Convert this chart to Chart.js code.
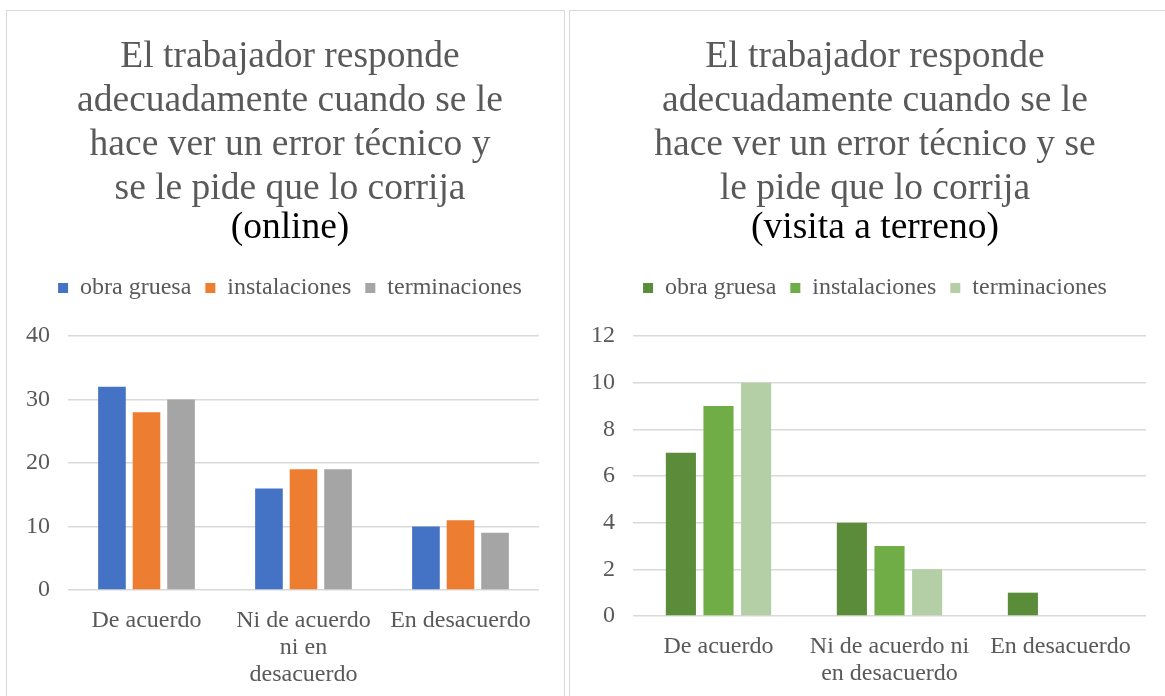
<!DOCTYPE html>
<html lang="es">
<head>
  <meta charset="UTF-8" />
  <title>Respuesta ante error técnico</title>
  <script src="https://cdn.jsdelivr.net/npm/chart.js"></script>
  <style>
    body {
      margin: 0;
      background: #fff;
      overflow: hidden;
      width: 1165px;
      height: 696px;
      position: relative;
    }
    .box {
      position: absolute;
      top: 10px;
      height: 700px;
      border: 1px solid #d9d9d9;
      background: #fff;
    }
    #boxOnline { left: 6px; width: 557px; }
    #boxTerreno { left: 569px; width: 604px; }
    .box canvas { display: block; }
  </style>
</head>
<body>
  <div class="box" id="boxOnline"><canvas id="chartOnline" width="557" height="689"></canvas></div>
  <div class="box" id="boxTerreno"><canvas id="chartTerreno" width="604" height="689"></canvas></div>

  <script>
    const seriesNames = ['obra gruesa', 'instalaciones', 'terminaciones'];

    // online
    const onlineLabels = ['De acuerdo', ['Ni de acuerdo', 'ni en', 'desacuerdo'], 'En desacuerdo'];
    const onlineObra = [32, 16, 10];
    const onlineInst = [28, 19, 11];
    const onlineTerm = [30, 19, 9];
    const onlineTicks = { max: 40, step: 10 };

    // visita a terreno
    const terrenoLabels = ['De acuerdo', ['Ni de acuerdo ni', 'en desacuerdo'], 'En desacuerdo'];
    const terrenoObra = [7, 4, 1];
    const terrenoInst = [9, 3, 0];
    const terrenoTerm = [10, 2, 0];
    const terrenoTicks = { max: 12, step: 2 };

    const titleLines = {
      online: ['El trabajador responde', 'adecuadamente cuando se le', 'hace ver un error técnico y', 'se le pide que lo corrija'],
      terreno: ['El trabajador responde', 'adecuadamente cuando se le', 'hace ver un error técnico y se', 'le pide que lo corrija']
    };

    const FONT = "'Liberation Serif', 'Times New Roman', serif";
    const TEXT = '#595959';
    const GRID = '#d9d9d9';

    function makeChart(id, cfg) {
      // extra room between legend and plot
      const legendGap = {
        id: 'legendGap',
        beforeInit(chart) {
          const fit = chart.legend.fit;
          chart.legend.fit = function () {
            fit.call(this);
            this.height += 26;
          };
        }
      };

      return new Chart(document.getElementById(id), {
        type: 'bar',
        data: {
          labels: cfg.labels,
          datasets: cfg.values.map((vals, i) => ({
            label: seriesNames[i],
            data: vals,
            backgroundColor: cfg.colors[i],
            borderWidth: 0,
            categoryPercentage: 0.66,
            barPercentage: 0.8
          }))
        },
        options: {
          responsive: false,
          animation: false,
          layout: { padding: { left: 34, right: cfg.padRight, top: 0, bottom: 0 } },
          plugins: {
            title: {
              display: true,
              text: cfg.title,
              color: TEXT,
              font: { family: FONT, size: 37.5, weight: 'normal', lineHeight: 44 / 37.5 },
              padding: { top: 24, bottom: 0 }
            },
            subtitle: {
              display: true,
              text: cfg.subtitle,
              color: '#000',
              font: { family: FONT, size: 37.5, weight: 'normal', lineHeight: 34 / 37.5 },
              padding: { top: 0, bottom: 17 }
            },
            legend: {
              position: 'top',
              labels: {
                color: TEXT,
                font: { family: FONT, size: 24 },
                boxWidth: 10,
                boxHeight: 10,
                padding: 14
              }
            },
            tooltip: { enabled: false }
          },
          scales: {
            x: {
              grid: { display: false },
              border: { display: false },
              ticks: {
                color: TEXT,
                font: { family: FONT, size: 24, lineHeight: 27 / 24 },
                padding: 9,
                maxRotation: 0,
                autoSkip: false
              },
              afterFit(scale) { scale.height = cfg.xHeight; }
            },
            y: {
              min: 0,
              max: cfg.ticks.max,
              grid: { color: GRID, lineWidth: 1.5, drawTicks: false },
              border: { display: false },
              ticks: {
                stepSize: cfg.ticks.step,
                color: TEXT,
                font: { family: FONT, size: 24 },
                padding: 18
              },
              afterFit(scale) {
                scale.width = cfg.yWidth;
                // the axis is narrow, so don't clip its labels
                scale._computeLabelArea = () => undefined;
              }
            }
          }
        },
        plugins: [legendGap]
      });
    }

    makeChart('chartOnline', {
      labels: onlineLabels,
      values: [onlineObra, onlineInst, onlineTerm],
      colors: ['#4472C4', '#ED7D31', '#A5A5A5'],
      ticks: onlineTicks,
      title: titleLines.online,
      subtitle: '(online)',
      padRight: 25,
      yWidth: 27,
      xHeight: 110
    });

    makeChart('chartTerreno', {
      labels: terrenoLabels,
      values: [terrenoObra, terrenoInst, terrenoTerm],
      colors: ['#5A8C39', '#70AD47', '#B4CFA6'],
      ticks: terrenoTicks,
      title: titleLines.terreno,
      subtitle: '(visita a terreno)',
      padRight: 28,
      yWidth: 29,
      xHeight: 84
    });
  </script>
</body>
</html>
